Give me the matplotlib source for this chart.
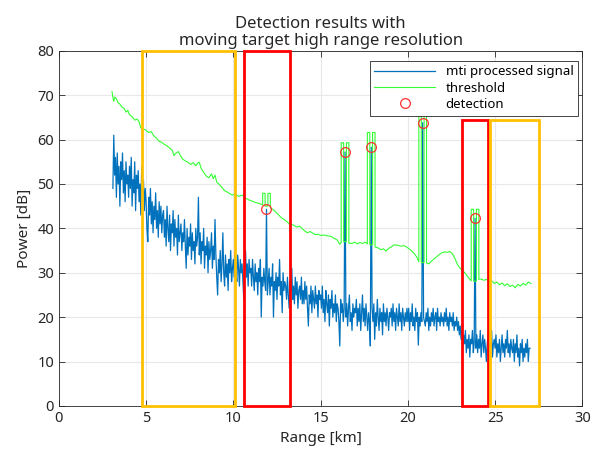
import numpy as np
import matplotlib
matplotlib.use("Agg")
import matplotlib.pyplot as plt
from matplotlib.patches import Rectangle

plt.rcParams['font.family'] = ['Noto Sans', 'DejaVu Sans']

# mti processed signal, one sample every 0.05 km starting at 3.1 km
signal_start = 3.1
signal_step = 0.05
signal_db = [
    49, 61, 52, 56, 47, 57, 50, 54, 45, 55, 51, 57, 48, 53, 46, 55, 50, 52,            # 3.1 km
    47, 54, 49, 56, 45, 51, 48, 55, 44, 52, 49, 53, 46, 50, 43, 54, 47, 51, 44, 49,    # 4
    46, 40, 37, 47, 43, 49, 41, 46, 39, 45, 42, 48, 40, 44, 38, 46, 41, 45, 39, 43,    # 5
    44, 38, 42, 36, 45, 40, 37, 43, 35, 41, 39, 44, 36, 42, 38, 40, 34, 43, 37, 39,    # 6
    41, 35, 39, 37, 42, 36, 31, 40, 34, 38, 36, 41, 33, 39, 35, 37, 32, 40, 36, 38,    # 7
    47, 34, 39, 32, 37, 35, 40, 31, 36, 34, 38, 30, 37, 33, 35, 39, 31, 36, 33, 42,    # 8
    34, 29, 25, 33, 30, 35, 28, 32, 39, 30, 27, 34, 29, 32, 26, 33, 30, 35, 28, 31,    # 9
    33, 29, 35, 30, 28, 34, 31, 27, 33, 30, 32, 28, 24, 31, 35, 29, 32, 27, 33, 30,    # 10
    31, 27, 33, 29, 26, 32, 28, 30, 25, 31, 28, 33, 20, 29, 27, 31, 28, 26, 44.3, 25,  # 11
    28, 31, 25, 29, 27, 32, 20, 28, 26, 30, 24, 29, 27, 33, 25, 28, 21, 30, 26, 28,    # 12
    27, 24, 29, 25, 22, 28, 26, 31, 24, 27, 23, 29, 25, 28, 22, 26, 27, 24, 29, 23,    # 13
    26, 23, 28, 24, 27, 22, 18, 25, 23, 27, 21, 26, 24, 22, 27, 23, 25, 20, 26, 24,    # 14
    25, 22, 27, 21, 24, 19, 26, 23, 21, 25, 18, 24, 22, 26, 20, 23, 21, 25, 19, 23,    # 15
    22, 19, 13.5, 24, 21, 23, 19, 22, 57.2, 20, 23, 18, 22, 25, 19, 21, 17, 23, 20, 22,  # 16
    21, 24, 18, 22, 19, 23, 17, 21, 25, 19, 22, 18, 23, 20, 17, 21, 19, 13.5, 58.3, 22,  # 17
    19, 23, 15, 21, 18, 24, 20, 17, 22, 19, 21, 16, 23, 19, 21, 18, 22, 20, 17, 21,    # 18
    20, 22, 18, 23, 19, 21, 17, 22, 20, 18, 23, 19, 21, 17, 22, 20, 18, 21, 19, 22,    # 19
    19, 22, 17, 21, 19, 23, 18, 20, 17, 22, 19, 21, 13.7, 20, 18, 21, 19, 63.8, 20, 19,  # 20
    18, 21, 19, 22, 17, 20, 18, 21, 19, 22, 18, 20, 21, 17, 22, 19, 20, 18, 21, 19,    # 21
    20, 18, 21, 19, 22, 18, 20, 17, 21, 19, 20, 18, 21, 17, 19, 18, 20, 17, 19, 16,    # 22
    18, 15, 17, 13, 16, 14, 17, 12, 15, 13, 16, 11, 15, 14, 17, 12, 14, 42.3, 13, 16,  # 23
    12, 15, 13, 17, 11, 14, 16, 12, 15, 13, 10, 14, 16, 12, 15, 13, 17, 11, 14, 15,    # 24
    13, 16, 11, 14, 12, 15, 10, 13, 16, 12, 14, 11, 15, 13, 17, 12, 14, 11, 15, 13,    # 25
    12, 15, 10, 14, 12, 16, 11, 13, 9, 14, 12, 15, 10, 13, 11, 14, 12, 15, 10, 13,     # 26
    13,
]

# threshold curve (range km, dB) incl. the raised windows around the targets
thr_range = [3.05, 3.1, 3.15, 3.2, 3.3, 3.4, 3.5, 3.6, 3.75, 3.85, 3.95, 4.05, 4.2, 4.35, 4.5, 4.6,
             4.7, 4.85, 5.0, 5.15, 5.3, 5.45, 5.6, 5.75, 5.9, 6.05, 6.2, 6.35, 6.5, 6.6, 6.7, 6.85,
             6.95, 7.1, 7.25, 7.4, 7.55, 7.7, 7.85, 7.95, 8.05, 8.15, 8.3, 8.45, 8.6, 8.75, 8.85,
             8.95, 9.05, 9.2, 9.35, 9.5, 9.65, 9.8, 9.95, 10.1, 10.3, 10.5, 10.7, 10.9, 11.1, 11.3,
             11.5, 11.68,
             11.68, 11.68, 11.82, 11.82, 11.98, 11.98, 12.12, 12.12,
             12.3, 12.45, 12.6, 12.75, 12.9, 13.05, 13.2, 13.35, 13.5, 13.65, 13.8, 13.95, 14.1,
             14.25, 14.4, 14.55, 14.7, 14.85, 15.0, 15.2, 15.4, 15.6, 15.8, 15.95, 16.1,
             16.18, 16.18, 16.32, 16.32, 16.48, 16.48, 16.62, 16.62,
             16.8, 16.95, 17.1, 17.25, 17.4, 17.55,
             17.68, 17.68, 17.82, 17.82, 17.98, 17.98, 18.12, 18.12,
             18.3, 18.45, 18.6, 18.75, 18.9, 19.05, 19.2, 19.4, 19.6, 19.8, 20.0, 20.2, 20.35,
             20.5,
             20.63, 20.63, 20.77, 20.77, 20.93, 20.93, 21.07, 21.07,
             21.2, 21.35, 21.5, 21.65, 21.8, 21.95, 22.1, 22.25, 22.4, 22.55, 22.7, 22.85, 23.0,
             23.15, 23.3, 23.45, 23.55,
             23.63, 23.63, 23.77, 23.77, 23.93, 23.93, 24.07, 24.07,
             24.2, 24.35, 24.5, 24.65, 24.8, 24.95, 25.1, 25.25, 25.4, 25.55, 25.7, 25.85, 26.0,
             26.15, 26.3, 26.45, 26.6, 26.75, 26.9, 27.05]
thr_db = [70.8, 69.5, 68.6, 69.6, 69.2, 68.3, 68.0, 67.4, 67.0, 66.2, 66.6, 65.6, 65.2, 64.4, 64.6, 64.0,
          62.6, 62.4, 62.1, 61.6, 61.8, 60.8, 60.3, 59.6, 59.4, 58.9, 58.6, 58.1, 57.6, 56.4, 56.9, 57.3,
          56.5, 55.6, 55.2, 54.9, 54.4, 54.8, 54.1, 54.7, 54.9, 53.6, 52.6, 51.8, 51.4, 52.3, 51.2,
          52.0, 50.4, 49.9, 49.2, 48.5, 48.2, 47.8, 47.5, 47.8, 47.2, 47.5, 46.8, 46.4, 46.1, 45.8,
          45.6, 45.3,
          45.3, 47.9, 47.9, 45.0, 45.0, 47.9, 47.9, 44.6,
          44.2, 43.6, 43.0, 42.4, 42.0, 41.6, 41.0, 40.9, 40.6, 40.3, 40.5, 39.9, 39.4,
          39.0, 39.3, 38.9, 38.6, 38.7, 38.4, 38.5, 38.3, 38.2, 37.7, 37.4, 36.4,
          36.8, 59.3, 59.3, 37.0, 37.0, 59.3, 59.3, 36.7,
          36.6, 36.9, 36.5, 36.8, 36.6, 36.9,
          36.5, 61.6, 61.6, 36.3, 36.3, 61.6, 61.6, 35.8,
          35.6, 35.2, 35.4, 34.9, 35.5, 35.8, 36.3, 36.2, 36.0, 36.1, 35.6, 35.0, 34.4,
          33.6,
          32.5, 72.0, 72.0, 32.3, 32.3, 72.0, 72.0, 32.2,
          32.0, 32.6, 33.1, 33.6, 34.1, 34.5, 34.7, 34.6, 34.8, 34.3, 33.2, 31.8, 31.0,
          30.5, 29.8, 29.0, 28.5,
          28.2, 44.3, 44.3, 28.1, 28.1, 44.3, 44.3, 28.5,
          28.6, 28.3, 28.5, 28.0, 28.2, 27.6, 27.9, 27.3, 27.7, 27.1, 27.5, 26.9, 27.2,
          26.6, 27.4, 27.0, 27.6, 27.2, 27.9, 27.6]

# detections
det_range = [11.9, 16.4, 17.9, 20.85, 23.85]
det_db = [44.3, 57.2, 58.3, 63.8, 42.3]

# highlight boxes: (x0, x1, top), colour
box_x0 = [4.74, 10.6, 23.08, 24.68]
box_x1 = [10.09, 13.25, 24.6, 27.5]
box_top = [80, 80, 64.5, 64.5]
box_col = ['#FFC000', '#FF0000', '#FF0000', '#FFC000']

signal_range = signal_start + signal_step * np.arange(len(signal_db))

fig = plt.figure(figsize=(5.97, 4.5), dpi=100)
ax = fig.add_axes([0.0985, 0.098, 0.877, 0.789])

ax.plot(signal_range, signal_db, color='#0072BD', lw=0.9, label='mti processed signal')
ax.plot(thr_range, thr_db, color='#33FF33', lw=0.8, label='threshold')
ax.plot(det_range, det_db, 'o', mfc='none', mec='#FF3030', ms=7, mew=0.9, label='detection')

for x0, x1, top, c in zip(box_x0, box_x1, box_top, box_col):
    ax.add_patch(Rectangle((x0, 0), x1 - x0, top, fill=False, ec=c, lw=2,
                           clip_on=False, zorder=5))

ax.set_xlim(0, 30)
ax.set_ylim(0, 80)
ax.set_xticks(np.arange(0, 31, 5))
ax.set_yticks(np.arange(0, 81, 10))
ax.grid(True, color='#E8E8E8', lw=0.8)
ax.set_axisbelow(True)
ax.tick_params(direction='in', top=True, right=True, labelsize=10.5,
               colors='#262626', length=4, width=0.6)
for s in ax.spines.values():
    s.set_color('#262626')
    s.set_linewidth(0.6)

ax.set_xlabel('Range [km]', fontsize=11, color='#262626')
ax.set_ylabel('Power [dB]', fontsize=11, color='#262626')
ax.set_title('Detection results with\nmoving target high range resolution',
             fontsize=12, color='#262626', linespacing=1.1, pad=4)

leg = ax.legend(loc='upper right', bbox_to_anchor=(0.992, 0.972), borderaxespad=0,
                fontsize=9.5, frameon=True, fancybox=False, edgecolor='#262626',
                framealpha=1, handlelength=4.6, borderpad=0.35, labelspacing=0.25,
                handletextpad=0.8)
leg.get_frame().set_linewidth(0.6)
leg.set_zorder(6)

fig.savefig('out.png', dpi=100)
